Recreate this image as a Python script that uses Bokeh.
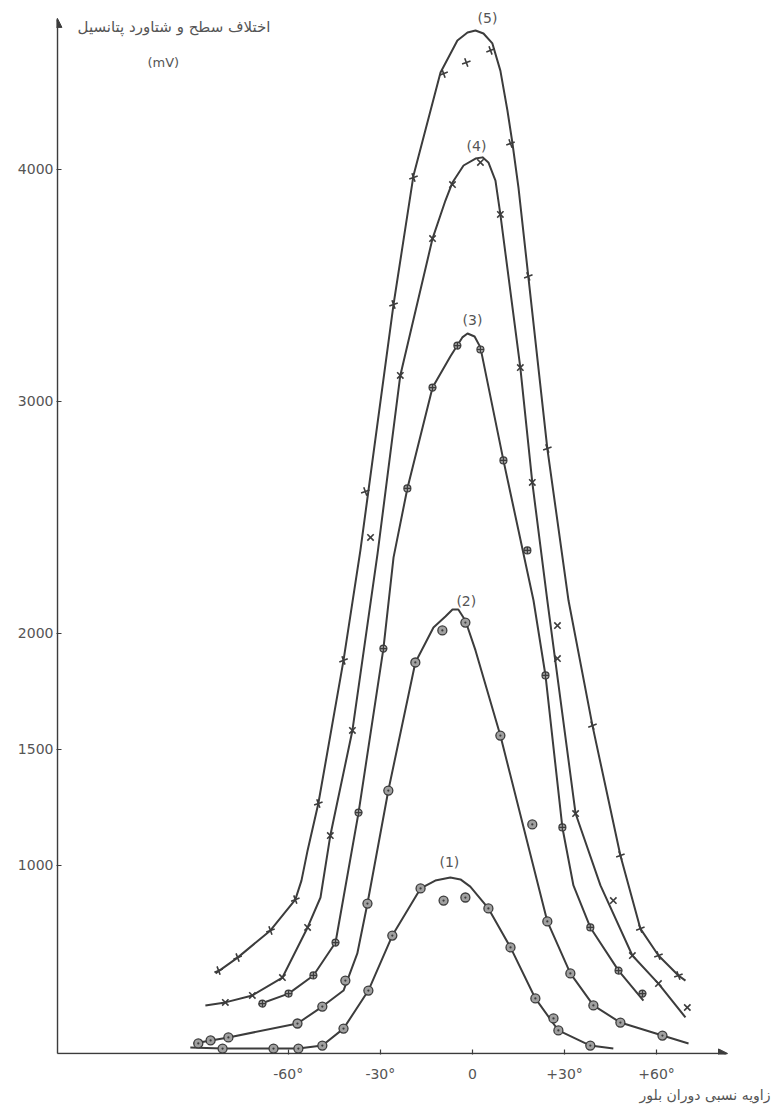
from bokeh.plotting import figure
from bokeh.models import FixedTicker, Range1d, Arrow, NormalHead, Title
from bokeh.embed import file_html
from bokeh.resources import INLINE
from bokeh.core.properties import value

# ---------------- data (angle in degrees, potential in mV) ----------------
x_ticks = [-60, -30, 0, 30, 60]
x_tick_labels = ["-60°", "-30°", "0", "+30°", "+60°"]
y_ticks = [1000, 1500, 2000, 3000, 4000]

# traced curves
c5_x = [-83.7, -76.5, -65.8, -57.7, -55.7, -53.7, -50.2, -42.0, -36.5, -25.7, -19.2, -10.4, -4.9, -1.6, 1.0, 3.6, 6.5, 9.1, 11.4, 13.0, 15.0, 18.2, 24.4, 31.3, 39.1, 48.2, 54.7, 60.6, 67.1, 69.4]
c5_y = [535, 603, 720, 853, 935, 1065, 1267, 1884, 2358, 3418, 3974, 4418, 4556, 4590, 4599, 4586, 4543, 4426, 4254, 4116, 3922, 3539, 2797, 2142, 1603, 1043, 728, 612, 526, 504]

c4_x = [-87.0, -80.5, -71.7, -61.9, -53.7, -49.5, -46.3, -39.1, -30.9, -23.5, -13.0, -8.8, -6.5, -2.9, 1.0, 3.3, 5.2, 7.5, 9.1, 15.6, 19.5, 24.4, 33.6, 41.7, 52.1, 60.6, 69.4]
c4_y = [397, 410, 440, 517, 733, 862, 1129, 1582, 2345, 3112, 3702, 3866, 3944, 4017, 4047, 4052, 4030, 3952, 3806, 3146, 2651, 2142, 1224, 914, 612, 491, 345]

c3_x = [-69.7, -59.9, -51.8, -44.6, -42.0, -37.1, -29.0, -25.7, -21.2, -13.0, -7.2, -3.3, -1.6, 0.7, 2.6, 10.1, 19.9, 23.8, 29.3, 32.9, 38.4, 47.6, 55.7]
c3_y = [401, 448, 526, 668, 862, 1228, 1935, 2328, 2625, 3060, 3194, 3276, 3293, 3280, 3233, 2746, 2142, 1819, 1164, 914, 733, 547, 418]

c2_x = [-90.9, -79.5, -57.0, -48.9, -42.0, -37.5, -34.2, -27.4, -18.6, -12.7, -8.8, -6.5, -4.6, -2.3, 1.0, 9.1, 24.4, 31.9, 39.4, 48.2, 61.9, 70.4]
c2_y = [233, 259, 319, 392, 461, 621, 836, 1323, 1875, 2026, 2073, 2103, 2103, 2056, 1927, 1560, 759, 535, 397, 323, 267, 233]

c1_x = [-91.9, -81.4, -64.8, -56.7, -48.9, -42.0, -33.9, -26.1, -16.9, -12.1, -7.2, -3.9, -0.7, 5.2, 12.4, 20.5, 28.0, 38.4, 45.9]
c1_y = [216, 211, 211, 211, 224, 297, 461, 698, 901, 935, 948, 940, 909, 815, 647, 427, 289, 224, 211]

# measured points
m5_x = [-82.7, -76.5, -65.8, -57.7, -50.2, -42.0, -34.9, -25.7, -19.2, -9.4, -2.0, 5.9, 12.4, 18.2, 24.4, 39.1, 48.2, 54.7, 60.6, 67.1]
m5_y = [547, 603, 720, 853, 1267, 1884, 2612, 3418, 3965, 4413, 4461, 4513, 4112, 3539, 2797, 1603, 1043, 728, 612, 526]

m4_x = [-80.5, -71.7, -61.9, -53.7, -46.3, -39.1, -33.2, -23.5, -13.0, -6.5, 2.6, 9.1, 15.6, 19.5, 27.7, 27.7, 33.6, 45.9, 52.1, 60.6, 70.0]
m4_y = [410, 440, 517, 733, 1129, 1582, 2414, 3112, 3702, 3935, 4030, 3806, 3146, 2651, 2034, 1892, 1224, 849, 612, 491, 388]

m3_x = [-68.4, -59.9, -51.8, -44.6, -37.1, -29.0, -21.2, -13.0, -4.9, 2.6, 10.1, 17.9, 23.8, 29.3, 38.4, 47.6, 55.4]
m3_y = [405, 448, 526, 668, 1228, 1935, 2625, 3060, 3241, 3224, 2746, 2358, 1819, 1164, 733, 547, 448]

m2_x = [-89.3, -85.3, -79.5, -57.0, -48.9, -41.4, -34.2, -27.4, -18.6, -9.8, -2.3, 9.1, 19.5, 24.4, 31.9, 39.4, 48.2, 61.9]
m2_y = [233, 246, 259, 319, 392, 504, 836, 1323, 1875, 2013, 2047, 1560, 1177, 759, 535, 397, 323, 267]

m1_x = [-81.4, -64.8, -56.7, -48.9, -42.0, -33.9, -26.1, -16.9, -9.4, -2.3, 5.2, 12.4, 20.5, 26.4, 28.0, 38.4]
m1_y = [211, 211, 211, 224, 297, 461, 698, 901, 849, 862, 815, 647, 427, 341, 289, 224]

curve_label_x = [4.9, 1.3, 0.0, -2.0, -7.5]
curve_label_y = [4651, 4103, 3349, 2142, 1013]
curve_label_text = ["(5)", "(4)", "(3)", "(2)", "(1)"]

y_title = "اختلاف سطح و شتاورد پتانسیل"
y_unit = "(mV)"
x_title = "زاویه نسبی دوران بلور"

INK = "#3c3c3c"
TXT = "#555555"
FONT = "DejaVu Sans"

AXIS_X = -135.2     # angle where the vertical axis stands
AXIS_Y = 190        # potential where the horizontal axis lies
X0, X1 = -135.5, 97.1
Y0, Y1 = 185.4, 4685

p = figure(width=775, height=1109,
           min_border_left=56, min_border_right=5,
           min_border_top=10, min_border_bottom=55,
           x_range=Range1d(X0, X1), y_range=Range1d(Y0, Y1),
           output_backend="svg", toolbar_location=None)
p.outline_line_color = None
p.grid.visible = False
p.background_fill_color = "white"
p.border_fill_color = "white"

for ax in (p.xaxis, p.yaxis):
    ax.axis_line_color = None
    ax.major_tick_line_color = INK
    ax.major_tick_line_width = 1.2
    ax.major_tick_in = 5
    ax.major_tick_out = 0
    ax.minor_tick_line_color = None
    ax.major_label_text_font = FONT
    ax.major_label_text_font_size = "14px"
    ax.major_label_text_color = TXT

p.xaxis.ticker = FixedTicker(ticks=x_ticks)
p.xaxis.major_label_overrides = {t: s for t, s in zip(x_ticks, x_tick_labels)}
p.xaxis.major_label_standoff = 11
p.yaxis.ticker = FixedTicker(ticks=y_ticks)
p.yaxis.major_label_standoff = 3

# axes drawn as arrows
p.add_layout(Arrow(end=NormalHead(size=9, fill_color=INK, line_color=INK),
                   x_start=AXIS_X, y_start=AXIS_Y, x_end=AXIS_X, y_end=4651,
                   line_color=INK, line_width=1.6))
p.add_layout(Arrow(end=NormalHead(size=9, fill_color=INK, line_color=INK),
                   x_start=AXIS_X, y_start=AXIS_Y, x_end=83.1, y_end=AXIS_Y,
                   line_color=INK, line_width=1.6))

for cx, cy in [(c1_x, c1_y), (c2_x, c2_y), (c3_x, c3_y), (c4_x, c4_y), (c5_x, c5_y)]:
    p.line(cx, cy, line_color=INK, line_width=2, line_join="round")

p.scatter(m1_x, m1_y, marker="circle_dot", size=9, line_color=INK, fill_color="#a0a0a0", line_width=1.3)
p.scatter(m2_x, m2_y, marker="circle_dot", size=9, line_color=INK, fill_color="#a0a0a0", line_width=1.3)
p.scatter(m3_x, m3_y, marker="circle_cross", size=7, line_color=INK, fill_color="#a0a0a0", line_width=1.2)
p.scatter(m4_x, m4_y, marker="x", size=9, line_color=INK, line_width=1.6)
p.scatter(m5_x, m5_y, marker="cross", size=9, angle=0.35, line_color=INK, line_width=1.6)

p.text(curve_label_x, curve_label_y, text=curve_label_text, text_font=value(FONT),
       text_font_size="14px", text_color=TXT, text_align="center", text_baseline="middle")

p.text([-65.8], [4612], text=[y_title], text_font=value(FONT), text_font_size="15px",
       text_color=TXT, text_align="right", text_baseline="middle")
p.text([-100.7], [4461], text=[y_unit], text_font=value(FONT), text_font_size="13px",
       text_color=TXT, text_align="center", text_baseline="middle")

p.add_layout(Title(text=x_title, align="right", text_font=FONT, text_font_size="14px",
                   text_color=TXT, text_font_style="normal", standoff=0), "below")

open("out.html", "w").write(file_html(p, INLINE))
